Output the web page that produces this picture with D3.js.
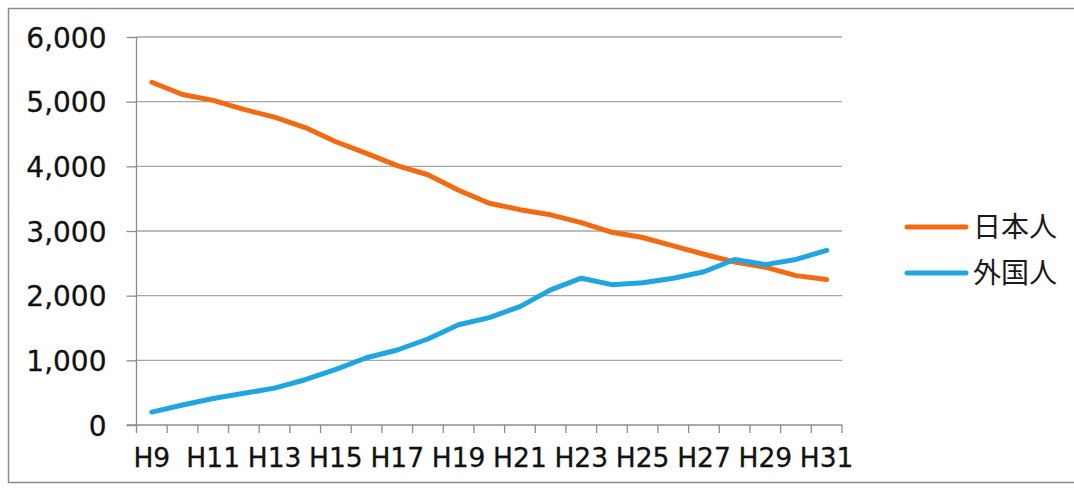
<!DOCTYPE html>
<html>
<head>
<meta charset="utf-8">
<script src="https://cdn.jsdelivr.net/npm/d3@7"></script>
<style>
  body { margin: 0; background: #fff; }
  svg { display: block; }
</style>
</head>
<body>
<div class="board"></div>
<script>
(function() {

  var years = ['H9','H10','H11','H12','H13','H14','H15','H16','H17','H18','H19','H20',
    'H21','H22','H23','H24','H25','H26','H27','H28','H29','H30','H31'];

  var japanese = [5300, 5110, 5020, 4880, 4760, 4600, 4380, 4200, 4010, 3870, 3630, 3430,
    3330, 3250, 3130, 2980, 2900, 2770, 2640, 2520, 2440, 2310, 2250];

  var foreign = [200, 310, 410, 490, 570, 700, 860, 1040, 1160, 1330, 1550, 1660,
    1830, 2090, 2270, 2170, 2200, 2270, 2370, 2560, 2480, 2560, 2700];

  var yTicks = [0, 1000, 2000, 3000, 4000, 5000, 6000];

  var series = [
    { name: '日本人', values: japanese, color: '#f26b12' },
    { name: '外国人', values: foreign, color: '#1fa6e0' }
  ];

  var options = { width: 1074, height: 489 };
  var plot = { left: 136.5, right: 842, top: 37, bottom: 425 };

  var board = d3.select('.board')
    .append('svg')
    .attr('width', options.width)
    .attr('height', options.height);

  // outer frame
  board.append('path')
    .attr('d', 'M1074,8.5 H8.5 V482.5 H1074')
    .style('fill', 'none')
    .style('stroke', '#8c8c8c')
    .style('stroke-width', 1.5);

  var x = d3.scaleBand()
    .domain(years)
    .range([plot.left, plot.right]);

  var y = d3.scaleLinear()
    .domain([0, 6000])
    .range([plot.bottom, plot.top]);

  // gridlines
  board.append('g')
    .selectAll('line')
    .data(yTicks.slice(1))
    .enter()
    .append('line')
    .attr('x1', plot.left)
    .attr('x2', plot.right)
    .attr('y1', function(d) { return y(d); })
    .attr('y2', function(d) { return y(d); })
    .style('stroke', '#a6a6a6')
    .style('stroke-width', 1.3);

  // y axis
  var yAxis = board.append('g')
    .attr('transform', 'translate(' + plot.left + ',0)')
    .call(d3.axisLeft(y).tickValues(yTicks).tickSize(10).tickPadding(20)
      .tickFormat(d3.format(',')));

  // x axis, ticks between categories
  var xAxis = board.append('g')
    .attr('transform', 'translate(0,' + plot.bottom + ')')
    .call(d3.axisBottom(x).tickSize(0).tickPadding(23)
      .tickFormat(function(d, i) { return i % 2 === 0 ? d : ''; }));

  xAxis.selectAll('.edge')
    .data(years.concat(['end']))
    .enter()
    .append('line')
    .attr('class', 'edge')
    .attr('x1', function(d, i) { return plot.left + i * x.bandwidth(); })
    .attr('x2', function(d, i) { return plot.left + i * x.bandwidth(); })
    .attr('y1', 0)
    .attr('y2', 8)
    .style('stroke', '#8c8c8c')
    .style('stroke-width', 1.3);

  [yAxis, xAxis].forEach(function(ax) {
    ax.selectAll('.domain').style('stroke', '#8c8c8c').style('stroke-width', 1.3);
    ax.selectAll('.tick line').style('stroke', '#8c8c8c').style('stroke-width', 1.3);
    ax.selectAll('text')
      .style('font-family', '"DejaVu Sans", Verdana, sans-serif')
      .style('fill', '#111')
      .style('stroke', '#111')
      .style('stroke-width', 0.3);
  });
  yAxis.selectAll('text').style('font-size', '28px').attr('dy', '0.36em');
  xAxis.selectAll('text').style('font-size', '26.5px');
  yAxis.select('.domain').attr('d', 'M0,' + plot.top + 'V' + plot.bottom);
  xAxis.select('.domain').attr('d', 'M' + (plot.left - 10) + ',0H' + plot.right);

  // lines
  var line = d3.line()
    .x(function(d, i) { return x(years[i]) + x.bandwidth() / 2; })
    .y(function(d) { return y(d); });

  board.selectAll('.series')
    .data(series)
    .enter()
    .append('path')
    .attr('class', 'series')
    .attr('d', function(d) { return line(d.values); })
    .style('fill', 'none')
    .style('stroke', function(d) { return d.color; })
    .style('stroke-width', 5)
    .style('stroke-linecap', 'round')
    .style('stroke-linejoin', 'round');

  // legend
  var legend = board.selectAll('.legend')
    .data(series)
    .enter()
    .append('g')
    .attr('class', 'legend')
    .attr('transform', function(d, i) { return 'translate(907,' + (227 + i * 46) + ')'; });

  legend.append('line')
    .attr('x1', 0)
    .attr('x2', 59)
    .style('stroke', function(d) { return d.color; })
    .style('stroke-width', 5)
    .style('stroke-linecap', 'round');

  legend.append('text')
    .attr('x', 66)
    .attr('y', 10)
    .text(function(d) { return d.name; })
    .style('font-family', '"Noto Sans CJK JP", sans-serif')
    .style('font-size', '28px')
    .style('fill', '#1a1a1a');

})();
</script>
</body>
</html>
